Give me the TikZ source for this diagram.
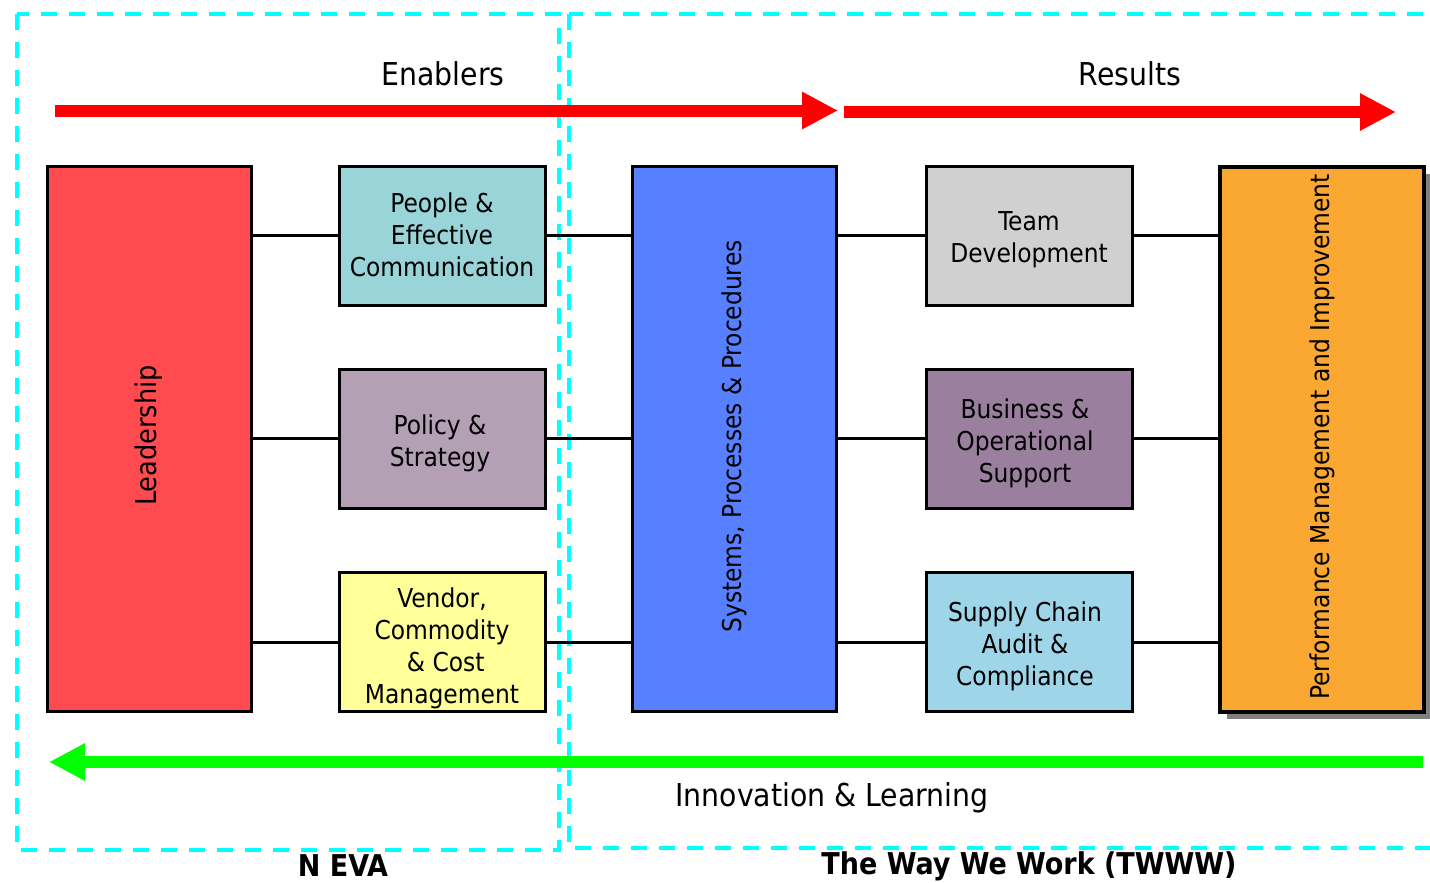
\documentclass[tikz,border=0pt]{standalone}
\usepackage{fontspec}
\IfFontExistsTF{DejaVu Sans Condensed}{\setmainfont{DejaVu Sans Condensed}}{\setmainfont{DejaVu Sans}}
\usetikzlibrary{arrows.meta,shadows}
\definecolor{cLead}{HTML}{FF4B50}
\definecolor{cPeople}{HTML}{99D5D8}
\definecolor{cPolicy}{HTML}{B3A0B5}
\definecolor{cVendor}{HTML}{FFFF99}
\definecolor{cSys}{HTML}{5680FF}
\definecolor{cTeam}{HTML}{D0D0D0}
\definecolor{cBus}{HTML}{9A7F9E}
\definecolor{cSupply}{HTML}{9FD5E8}
\definecolor{cPerf}{HTML}{FBA832}
\definecolor{cCyan}{HTML}{00FFFF}
\definecolor{cRed}{HTML}{FF0000}
\definecolor{cGreen}{HTML}{00FF00}
\begin{document}
\begin{tikzpicture}[x=1pt,y=-1pt,
  blk/.style={draw=black,line width=3pt,inner sep=0pt},
  small/.style={blk,minimum width=206pt,minimum height=139pt},
  tall/.style={blk,minimum width=204pt,minimum height=545pt},
  txt/.style={align=center,font=\fontsize{26}{32}\selectfont},
  vtxt/.style={rotate=90,font=\fontsize{26}{32}\selectfont},
  conn/.style={draw=black,line width=3pt},
  zone/.style={draw=cCyan,line width=4pt,dash pattern=on 16pt off 12pt},
  bigarrow/.style={line width=12pt,-{Triangle[length=36pt,width=35pt]}},
  title/.style={font=\fontsize{31.5}{38}\selectfont},
  foot/.style={inner sep=0pt,font=\fontsize{30}{36}\selectfont\bfseries}]
\useasboundingbox (0,0) rectangle (1430,883);
\clip (0,0) rectangle (1430,883);

% zones
\draw[zone] (17,14) rectangle (559,850);
\draw[zone] (569,14) rectangle (1450,848);

% boxes
\node[tall,fill=cLead,label={[vtxt,font=\fontsize{28.5}{34}\selectfont,xshift=3pt]center:Leadership}] (lead) at (149,438.5) {};
\node[small,fill=cPeople,label={[txt,yshift=1pt]center:People \&\\Effective\\Communication}] (people) at (442,235.5) {};
\node[small,fill=cPolicy,label={[txt,xshift=-2pt,yshift=-5pt]center:Policy \&\\Strategy}] (policy) at (442,438.5) {};
\node[small,fill=cVendor,label={[txt,yshift=-6pt]center:Vendor,\\Commodity\\\ \& Cost\\Management}] (vendor) at (442,642) {};
\node[tall,fill=cSys,label={[vtxt,xshift=2pt]center:Systems, Processes \& Procedures}] (sys) at (734.5,438.5) {};
\node[small,fill=cTeam,label={[txt,yshift=-4pt]center:Team\\Development}] (team) at (1029,235.5) {};
\node[small,fill=cBus,label={[txt,xshift=-4pt,yshift=-5pt]center:Business \&\\Operational\\Support}] (bus) at (1029,438.5) {};
\node[small,fill=cSupply,label={[txt,xshift=-4pt,yshift=-4pt]center:Supply Chain\\Audit \&\\Compliance}] (supply) at (1029,642) {};
\node[tall,fill=cPerf,line width=4pt,
  drop shadow={shadow xshift=7pt,shadow yshift=-7pt,fill=black!50,opacity=1},
  label={[vtxt,xshift=2pt]center:Performance Management and Improvement}] (perf) at (1322,439) {};

% connectors
\foreach \b in {people,policy,vendor}{
  \draw[conn] (\b.west -| lead.east) -- (\b.west);
  \draw[conn] (\b.east) -- (\b.east -| sys.west);
}
\foreach \b in {team,bus,supply}{
  \draw[conn] (\b.west -| sys.east) -- (\b.west);
  \draw[conn] (\b.east) -- (\b.east -| perf.west);
}

% arrows
\coordinate (r1s) at (55,110.5);
\coordinate (r1e) at (838,110.5);
\coordinate (r2s) at (844,112);
\coordinate (r2e) at (1396,112);
\coordinate (gs) at (1423,762);
\coordinate (ge) at (49,762);
\draw[bigarrow,cRed] (r1s) -- (r1e);
\draw[bigarrow,cRed] (r2s) -- (r2e);
\draw[bigarrow,cGreen] (gs) -- (ge);

% labels
\node[title] (enab) at (443,74) {Enablers};
\node[title] (res) at (1130,74) {Results};
\node[title] (innov) at (832,798) {Innovation \& Learning};
\node[foot] (neva) at (343,866) {N EVA};
\node[foot] (twww) at (1029,866) {The Way We Work (TWWW)};
\end{tikzpicture}
\end{document}
